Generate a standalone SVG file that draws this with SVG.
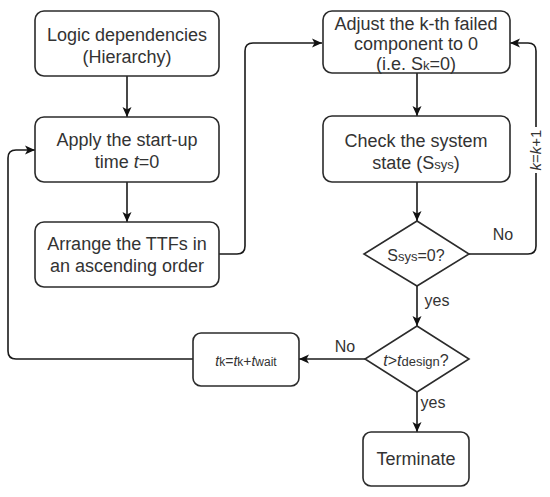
<svg xmlns="http://www.w3.org/2000/svg" width="550" height="497" viewBox="0 0 550 497">
<style>
.box{fill:#fff;stroke:#2b2b2b;stroke-width:1.6}
.t{font-family:"Liberation Sans",Arial,sans-serif;font-size:18px;fill:#333;text-anchor:middle}
.lbl{font-family:"Liberation Sans",Arial,sans-serif;font-size:16px;fill:#333;text-anchor:middle}
.sub{font-size:13px}
.c{fill:none;stroke:#1a1a1a;stroke-width:1.6;marker-end:url(#ah)}
</style>
<defs>
<marker id="ah" markerWidth="11" markerHeight="10" refX="10" refY="5" orient="auto" markerUnits="userSpaceOnUse">
<path d="M0,0.5 L10,5 L0,9.5 L2.5,5 z" fill="#111"/>
</marker>
</defs>
<rect width="550" height="497" fill="#fff"/>
<g id="connectors">
<path class="c" d="M127,76 V117"/>
<path class="c" d="M127,182 V222"/>
<path class="c" d="M219,254 H237 Q245,254 245,246 V51 Q245,43 253,43 H322"/>
<path class="c" d="M417,73 V116"/>
<path class="c" d="M417,182 V221"/>
<path class="c" d="M469,254 H528 Q536,254 536,246 V51 Q536,43 528,43 H510"/>
<path class="c" d="M417,286 V326"/>
<path class="c" d="M365,359 H299"/>
<path class="c" d="M417,392 V432"/>
<path class="c" d="M193,359 H16 Q8,359 8,351 V158 Q8,150 16,150 H35"/>
<text class="lbl" x="503" y="240">No</text>
<rect x="529" y="127" width="14" height="46" fill="#fff"/>
<text class="lbl" x="0" y="0" style="font-size:15px" transform="translate(541,150) rotate(-90)"><tspan font-style="italic">k</tspan>=<tspan font-style="italic">k</tspan>+1</text>
<text class="lbl" x="437" y="306">yes</text>
<text class="lbl" x="433" y="408">yes</text>
<text class="lbl" x="345" y="352">No</text>
</g>
<g id="n_logic">
<rect class="box" x="35" y="11" width="184" height="65" rx="9"/>
<text class="t" x="127" y="41">Logic dependencies</text>
<text class="t" x="127" y="63">(Hierarchy)</text>
</g>
<g id="n_apply">
<rect class="box" x="35" y="117" width="184" height="65" rx="9"/>
<text class="t" x="127" y="146">Apply the start-up</text>
<text class="t" x="127" y="168">time <tspan font-style="italic">t</tspan>=0</text>
</g>
<g id="n_arrange">
<rect class="box" x="35" y="222" width="184" height="65" rx="9"/>
<text class="t" x="127" y="250">Arrange the TTFs in</text>
<text class="t" x="127" y="272">an ascending order</text>
</g>
<g id="n_adjust">
<rect class="box" x="323" y="11" width="187" height="62" rx="9"/>
<text class="t" x="416" y="30">Adjust the k-th failed</text>
<text class="t" x="416" y="50">component to 0</text>
<text class="t" x="416" y="70">(i.e. S<tspan class="sub">k</tspan>=0)</text>
</g>
<g id="n_check">
<rect class="box" x="323" y="116" width="187" height="66" rx="9"/>
<text class="t" x="416" y="147">Check the system</text>
<text class="t" x="416" y="169">state (S<tspan class="sub">sys</tspan>)</text>
</g>
<g id="n_ssys">
<polygon class="box" points="417,221 469,254 417,286 364,254"/>
<text class="lbl" x="416" y="261">S<tspan class="sub">sys</tspan>=0?</text>
</g>
<g id="n_tdesign">
<polygon class="box" points="417,326 469,359 417,392 365,359"/>
<text class="lbl" x="416" y="366"><tspan font-style="italic">t</tspan>&gt;<tspan font-style="italic">t</tspan><tspan class="sub">design</tspan>?</text>
</g>
<g id="n_tk">
<rect class="box" x="193" y="333" width="106" height="53" rx="8"/>
<text class="lbl" x="246" y="366" style="font-size:14px"><tspan font-style="italic">t</tspan><tspan style="font-size:12px">k</tspan>=<tspan font-style="italic">t</tspan><tspan style="font-size:12px">k</tspan>+<tspan font-style="italic">t</tspan><tspan style="font-size:12px">wait</tspan></text>
</g>
<g id="n_terminate">
<rect class="box" x="363" y="432" width="106" height="54" rx="8"/>
<text class="t" x="416" y="465">Terminate</text>
</g>
</svg>
